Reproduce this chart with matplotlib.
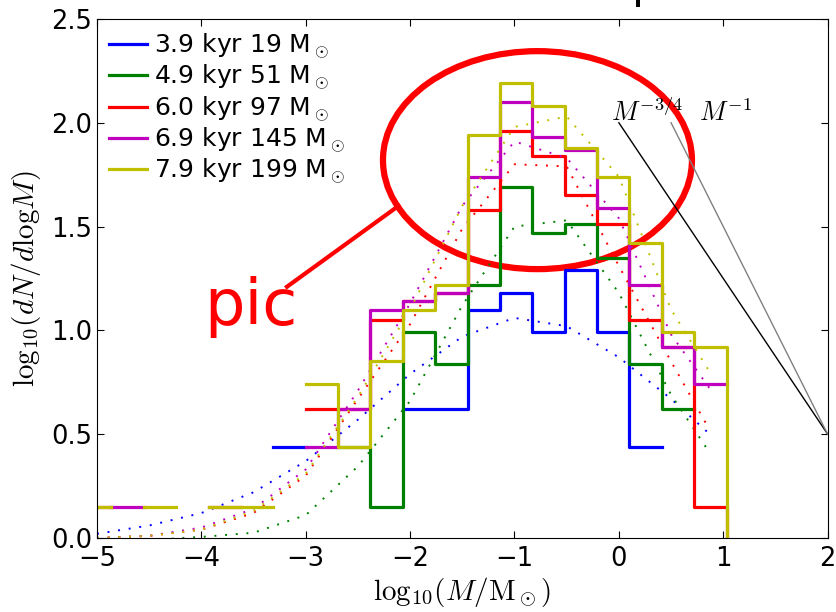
import numpy as np
import matplotlib
matplotlib.use("Agg")
import matplotlib.pyplot as plt
from matplotlib.patches import Ellipse

plt.rcParams['mathtext.fontset'] = 'cm'
plt.rcParams['xtick.direction'] = 'in'
plt.rcParams['ytick.direction'] = 'in'
plt.rcParams['xtick.top'] = True
plt.rcParams['ytick.right'] = True

nan = np.nan

# histogram bin edges in log10(M/Msun)
edges = [-5.18, -4.87, -4.55, -4.24, -3.93, -3.62, -3.31, -3.00, -2.69, -2.38,
         -2.07, -1.76, -1.45, -1.14, -0.83, -0.52, -0.21, 0.10, 0.41, 0.72, 1.04]

labels = ["3.9 kyr 19 M$_\\odot$", "4.9 kyr 51 M$_\\odot$", "6.0 kyr 97 M$_\\odot$",
          "6.9 kyr 145 M$_\\odot$", "7.9 kyr 199 M$_\\odot$"]
farger = ["b", "g", "r", "m", "y"]

# log10(dN/dlogM) per bin, nan = empty bin
blue = [nan, nan, nan, nan, nan, nan, 0.44, nan, nan, nan,
        0.62, 0.62, 1.10, 1.18, 0.99, 1.29, 0.99, 0.44, nan, nan]
green = [nan, nan, nan, nan, nan, nan, nan, nan, 0.44, 0.15,
         0.99, 0.84, 1.22, 1.69, 1.47, 1.51, 1.35, 0.84, 0.62, nan]
red = [0.15, nan, nan, nan, 0.15, nan, nan, 0.62, 0.62, 1.05,
       1.14, 1.18, 1.58, 1.96, 1.84, 1.65, 1.51, 1.05, 0.92, 0.15]
magenta = [nan, 0.15, nan, nan, nan, nan, nan, 0.44, 0.62, 1.10,
           1.14, 1.18, 1.74, 2.10, 1.93, 1.87, 1.59, 1.22, 0.92, 0.74]
yellow = [0.15, nan, 0.15, nan, 0.15, 0.15, nan, 0.74, 0.44, 0.85,
          1.10, 1.22, 1.94, 2.19, 2.08, 1.88, 1.74, 1.42, 0.99, 0.92]
hist = [blue, green, red, magenta, yellow]
# which ones fall to zero (log -> off the axis) after the last edge
faller = [False, False, True, False, True]

# lognormal fits (dotted)
fit_x = [-5, -4.5, -4, -3.5, -3, -2.5, -2, -1.5, -1, -0.5, 0, 0.5, 0.87]
blue_fit = [0.02, 0.06, 0.12, 0.22, 0.37, 0.57, 0.79, 0.97, 1.06, 1.02, 0.87, 0.67, 0.50]
green_fit = [-0.02, -0.01, 0.005, 0.025, 0.11, 0.345, 0.66, 1.12, 1.50, 1.53, 1.18, 0.69, 0.41]
red_fit = [0.0, 0.01, 0.04, 0.12, 0.30, 0.67, 1.03, 1.49, 1.80, 1.79, 1.31, 0.85, 0.52]
magenta_fit = [0.0, 0.01, 0.05, 0.14, 0.33, 0.71, 1.13, 1.60, 1.91, 1.83, 1.54, 0.98, 0.72]
yellow_fit = [0.0, 0.01, 0.04, 0.13, 0.31, 0.68, 1.10, 1.60, 1.98, 2.03, 1.74, 1.10, 0.80]
fits = [blue_fit, green_fit, red_fit, magenta_fit, yellow_fit]

# power laws
pl_x = [0.0, 2.0]
pl34_y = [2.0, 0.5]
pl1_x = [0.5, 2.0]
pl1_y = [2.0, 0.5]

fig = plt.figure(figsize=(8.36, 6.12), dpi=100)
ax = fig.add_axes([0.116, 0.121, 0.874, 0.848])

for i in range(5):
    slut = -1.0 if faller[i] else nan
    y = list(hist[i]) + [slut]
    ax.plot(edges, y, drawstyle="steps-post", color=farger[i], lw=2.3, label=labels[i])
    ax.plot(fit_x, fits[i], color=farger[i], lw=1.4, dashes=(1, 4.5))

ax.plot(pl_x, pl34_y, color="k", lw=1)
ax.plot(pl1_x, pl1_y, color="0.5", lw=1)
ax.text(-0.08, 2.01, "$M^{-3/4}$", fontsize=19)
ax.text(0.765, 2.01, "$M^{-1}$", fontsize=19)

# annotation
ax.add_patch(Ellipse((-0.78, 1.82), 2.96, 1.05, fill=False, ec="r", lw=4.5))
ax.plot([-3.18, -2.11], [1.21, 1.60], color="r", lw=3)
ax.text(-3.97, 1.026, "pic", color="r", fontsize=46)

ax.set_xlim(-5, 2)
ax.set_ylim(0, 2.5)
ax.set_xticks([-5, -4, -3, -2, -1, 0, 1, 2])
ax.set_yticks([0.0, 0.5, 1.0, 1.5, 2.0, 2.5])
ax.set_yticklabels(["0.0", "0.5", "1.0", "1.5", "2.0", "2.5"])
ax.tick_params(labelsize=18.5, length=5)
ax.tick_params(axis="x", pad=6)
ax.set_xlabel("$\\mathrm{log}_{10}(M/\\mathrm{M}_\\odot)$", fontsize=21, labelpad=2)
ax.set_ylabel("$\\mathrm{log}_{10}(dN/d\\mathrm{log}M)$", fontsize=21, labelpad=6)

ax.legend(loc="upper left", frameon=False, fontsize=18, handlelength=1.5,
          handletextpad=0.3, labelspacing=0.08, borderaxespad=0.1)

# bit of the title that sticks in from above
fig.text(0.756, 1.0036, "p", fontsize=32, va="baseline")

plt.savefig("out.png")
